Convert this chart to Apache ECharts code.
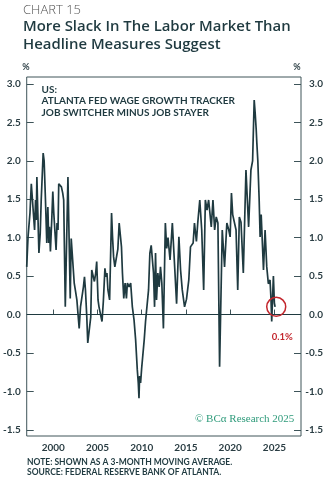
<!DOCTYPE html>
<html>
<head>
<meta charset="utf-8">
<script src="https://cdn.jsdelivr.net/npm/echarts@6/dist/echarts.min.js"></script>
<style>
html,body{margin:0;padding:0;background:#fff;}
#chart{width:333px;height:479px;}
</style>
</head>
<body>
<div id="chart"></div>
<script>
// Decimal years (x) and values (%)
const years = [
1997.00,1997.15,1997.37,1997.52,1997.74,1997.89,1998.00,1998.08,1998.15,1998.38,1998.53,1998.64,1998.86,1998.97,
1999.12,1999.27,1999.39,1999.50,1999.57,1999.68,1999.83,1999.95,2000.06,2000.21,2000.32,2000.43,2000.54,2000.62,
2000.80,2000.92,2001.07,2001.18,2001.36,2001.66,2001.92,2002.03,2002.22,2002.37,2002.52,2002.67,2002.82,2002.93,
2003.08,2003.23,2003.41,2003.53,2003.64,2003.79,2003.90,2004.09,2004.24,2004.35,2004.54,2004.65,2004.80,2004.91,
2005.06,2005.17,2005.33,2005.51,2005.66,2005.84,2005.96,2006.07,2006.18,2006.37,2006.59,2006.70,2006.82,2006.96,
2007.15,2007.30,2007.45,2007.60,2007.71,2007.82,2007.97,2008.12,2008.27,2008.38,2008.57,2008.75,2008.94,2009.13,
2009.31,2009.50,2009.61,2009.69,2009.76,2009.87,2009.99,2010.14,2010.28,2010.43,2010.62,2010.77,2010.92,2011.07,
2011.18,2011.33,2011.45,2011.56,2011.67,2011.82,2011.97,2012.12,2012.27,2012.45,2012.67,2012.82,2012.97,2013.20,
2013.46,2013.64,2013.94,2014.20,2014.39,2014.58,2014.84,2015.06,2015.32,2015.51,2015.81,2015.96,2016.18,2016.33,
2016.56,2016.78,2017.00,2017.19,2017.38,2017.56,2017.86,2018.05,2018.24,2018.42,2018.61,2018.80,2019.10,2019.36,
2019.62,2019.84,2019.99,2020.14,2020.28,2020.47,2020.66,2020.85,2021.03,2021.22,2021.48,2021.78,2022.08,2022.34,
2022.53,2022.71,2022.82,2022.94,2023.01,2023.12,2023.27,2023.38,2023.50,2023.76,2023.94,2024.13,2024.31,2024.50,
2024.61,2024.69,2024.88,2024.99,2025.07
];
const values = [
0.62,1.01,1.32,1.70,1.70,1.10,1.49,1.23,1.79,0.80,1.06,1.49,2.10,2.00,
1.49,0.93,1.40,0.93,1.14,0.82,1.23,1.60,1.32,1.30,0.84,1.19,1.10,1.70,
1.70,1.66,1.58,1.49,0.10,1.79,0.21,0.99,0.99,0.41,0.30,0.19,0.21,-0.18,
0.10,0.10,0.36,0.49,0.32,-0.03,-0.37,-0.37,-0.03,0.58,0.59,0.43,0.54,0.69,
0.19,0.10,0.10,-0.09,0.17,0.60,0.49,0.54,0.32,0.19,1.32,1.01,0.75,0.62,
0.64,0.85,1.19,1.19,0.88,0.54,0.21,0.41,0.21,0.41,0.36,0.41,0.10,-0.07,
-0.33,-0.72,-0.89,-1.09,-0.80,-0.89,-0.70,-0.70,-0.33,-0.09,-0.09,0.32,0.80,0.90,
0.88,0.54,0.10,0.80,0.19,0.54,0.36,0.62,0.41,-0.18,1.19,0.86,1.00,0.71,
1.19,0.80,0.14,1.01,0.58,0.32,0.10,0.20,0.45,0.88,0.93,1.19,0.95,1.19,
1.49,1.10,0.32,1.49,1.36,1.49,1.14,1.49,1.10,1.27,1.19,-0.68,1.10,0.62,
1.19,1.10,1.01,1.58,1.30,1.30,1.10,0.32,1.27,1.20,0.54,1.88,1.14,1.88,
2.00,2.79,2.62,2.40,2.23,2.00,1.50,1.01,1.30,0.58,1.10,0.62,0.40,0.45,
0.20,-0.09,0.50,0.15,0.10
];
const xTicks = [2000, 2005, 2010, 2015, 2020, 2025];
const yTicks = [-1.5, -1.0, -0.5, 0.0, 0.5, 1.0, 1.5, 2.0, 2.5, 3.0];
const calloutPoint = [2025.2, 0.1];
const calloutLabel = '0.1%';

const seriesData = years.map((y, i) => [y, values[i]]);

const dark = '#1f3a40';
const frame = '#3e5459';
const labelFont = 'Lato';

const chart = echarts.init(document.getElementById('chart'), null, {renderer: 'canvas'});

function yAxisDef(pos) {
  return {
    type: 'value', position: pos, min: -1.58, max: 3.09,
    axisLine: {show: false},
    splitLine: {show: false},
    axisTick: {show: true, inside: true, length: 7, customValues: yTicks, lineStyle: {color: frame, width: 1}},
    axisLabel: {
      customValues: yTicks,
      formatter: v => v.toFixed(1),
      margin: pos === 'left' ? 6 : 22,
      align: 'right',
      fontSize: 10, fontWeight: 'bold', fontFamily: labelFont, color: '#2b3e44'
    }
  };
}

const textItems = [
  {text: 'CHART 15', x: 23, y: 10, font: '300 13px "Open Sans"', fill: '#555'},
  {text: 'More Slack In The Labor Market Than', x: 23, y: 27, font: '600 14.9px "Open Sans"', fill: dark},
  {text: 'Headline Measures Suggest', x: 23, y: 45, font: '600 14.9px "Open Sans"', fill: dark},
  {text: '%', x: 26, y: 67, font: 'bold 9px Lato', fill: '#2b3e44', align: 'center'},
  {text: '%', x: 297, y: 67, font: 'bold 9px Lato', fill: '#2b3e44', align: 'center'},
  {text: 'US:', x: 41.5, y: 89.5, font: 'bold 10px Lato', fill: dark},
  {text: 'ATLANTA FED WAGE GROWTH TRACKER', x: 41.5, y: 101, font: 'bold 10px Lato', fill: dark},
  {text: 'JOB SWITCHER MINUS JOB STAYER', x: 41.5, y: 112.5, font: 'bold 10px Lato', fill: dark},
  {text: '\u00A9 BC\u03B1 Research 2025', x: 195, y: 419, font: '11px "Liberation Serif"', fill: '#2f9b7b'},
  {text: 'NOTE: SHOWN AS A 3-MONTH MOVING AVERAGE.', x: 27, y: 462.5, font: 'bold 8.5px Lato', fill: dark},
  {text: 'SOURCE: FEDERAL RESERVE BANK OF ATLANTA.', x: 27, y: 472.5, font: 'bold 8.5px Lato', fill: dark}
];

const option = {
  animation: false,
  backgroundColor: '#ffffff',
  grid: {left: 23, right: 32, top: 77, bottom: 43, show: true, borderColor: frame, borderWidth: 1, backgroundColor: 'transparent'},
  xAxis: {
    type: 'value', min: 1997, max: 2028,
    axisLine: {show: false},
    splitLine: {show: false},
    axisTick: {show: true, inside: true, length: 5, customValues: xTicks, lineStyle: {color: frame, width: 1}},
    axisLabel: {customValues: xTicks, formatter: v => String(v), margin: 7,
      fontSize: 10, fontWeight: 'bold', fontFamily: labelFont, color: '#2b3e44'}
  },
  yAxis: [yAxisDef('left'), yAxisDef('right')],
  series: [{
    type: 'line',
    data: seriesData,
    showSymbol: false,
    lineStyle: {color: dark, width: 1.7},
    z: 3,
    markLine: {
      silent: true, symbol: 'none', animation: false,
      label: {show: false},
      lineStyle: {color: dark, width: 1, type: 'solid'},
      data: [{yAxis: 0}]
    },
    markPoint: {
      silent: true, animation: false,
      data: [{
        coord: calloutPoint, symbol: 'circle', symbolSize: 19,
        itemStyle: {color: 'rgba(0,0,0,0)', borderColor: '#c3262d', borderWidth: 1.5},
        label: {show: true, formatter: calloutLabel, color: '#c3262d', fontWeight: 'bold', fontSize: 9.5, fontFamily: labelFont, offset: [6, 30]}
      }]
    }
  }],
  graphic: textItems.map(t => ({
    type: 'text', x: t.x, y: t.y, silent: true,
    style: {text: t.text, font: t.font, fill: t.fill, align: t.align || 'left', verticalAlign: 'middle',
      textAlign: t.align || 'left', textVerticalAlign: 'middle'}
  }))
};
chart.setOption(option);
</script>
</body>
</html>
